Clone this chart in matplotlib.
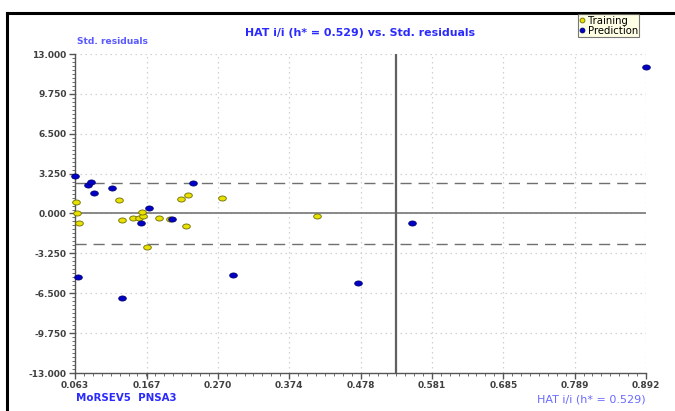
import numpy as np
import matplotlib
matplotlib.use("Agg")
import matplotlib.pyplot as plt
from matplotlib.path import Path
from matplotlib.lines import Line2D
from matplotlib.ticker import FixedLocator

# Data
train_hat = [0.0645, 0.0664, 0.0692, 0.1273, 0.1312, 0.1476, 0.1563, 0.1621, 0.1602,
             0.1675, 0.1845, 0.2009, 0.2173, 0.2266, 0.2241, 0.2759, 0.4138]
train_res = [0.92, 0.08, -0.79, 1.06, -0.49, -0.35, -0.35, -0.24, 0.16,
             -2.69, -0.38, -0.46, 1.20, 1.49, -1.00, 1.30, -0.24]
pred_hat = [0.063, 0.0823, 0.0858, 0.0906, 0.1163, 0.1588, 0.1709, 0.2042, 0.2347,
            0.0669, 0.1312, 0.2923, 0.4733, 0.5517, 0.892]
pred_res = [3.07, 2.36, 2.53, 1.71, 2.04, -0.76, 0.46, -0.41, 2.47,
            -5.16, -6.90, -5.00, -5.65, -0.79, 11.96]
h_star = 0.529
res_limit = 2.5
x_ticks = [0.063, 0.167, 0.270, 0.374, 0.478, 0.581, 0.685, 0.789, 0.892]
y_ticks = [-13.0, -9.75, -6.5, -3.25, 0.0, 3.25, 6.5, 9.75, 13.0]

fig = plt.figure(figsize=(6.75, 4.11), dpi=100)
fig.patch.set_facecolor("white")
ax = fig.add_axes([75/675, 1-373/411, (646-75)/675, (373-54)/411])

# ellipse marker
t = np.linspace(0, 2*np.pi, 40)
ell = Path(np.column_stack([1.5*np.cos(t), np.sin(t)]), closed=True)

ax.set_xlim(x_ticks[0], x_ticks[-1])
ax.set_ylim(y_ticks[0], y_ticks[-1])

ax.xaxis.set_major_locator(FixedLocator(x_ticks))
ax.yaxis.set_major_locator(FixedLocator(y_ticks))
ax.xaxis.set_minor_locator(FixedLocator(np.linspace(x_ticks[0], x_ticks[-1], 8*8+1)))
ax.yaxis.set_minor_locator(FixedLocator(np.linspace(-13, 13, 81)))
ax.set_xticklabels([f"{v:.3f}" for v in x_ticks])
ax.set_yticklabels([f"{v:.3f}" for v in y_ticks])
ax.tick_params(axis="both", which="major", length=4, width=1, color="#555555",
               labelsize=6.5, labelcolor="#404040", pad=2)
ax.tick_params(axis="both", which="minor", length=2, width=0.6, color="#555555")
for lab in ax.get_xticklabels() + ax.get_yticklabels():
    lab.set_fontweight("bold")

for s in ["top", "right"]:
    ax.spines[s].set_visible(False)
for s in ["left", "bottom"]:
    ax.spines[s].set_color("#555555")
    ax.spines[s].set_linewidth(1)

ax.grid(True, which="major", linestyle=(0, (1.2, 2.8)), color="#d0d0d0", linewidth=0.9)
ax.set_axisbelow(True)

ax.axhline(0, color="#808080", lw=1.3, zorder=1)
ax.axhline(res_limit, color="#707070", lw=1.0, ls=(0, (8, 5)), zorder=1)
ax.axhline(-res_limit, color="#707070", lw=1.0, ls=(0, (8, 5)), zorder=1)
ax.axvline(h_star, color="#606060", lw=1.6, zorder=1)

ax.scatter(train_hat, train_res, marker=ell, s=30, facecolor="#e8e000",
           edgecolor="#6b6b00", linewidth=0.6, zorder=3, clip_on=False, label="Training")
ax.scatter(pred_hat, pred_res, marker=ell, s=30, facecolor="#0000c8",
           edgecolor="#000070", linewidth=0.6, zorder=3, clip_on=False, label="Prediction")

leg = fig.legend(handles=[
    Line2D([], [], marker="o", ls="", markersize=3.5, markerfacecolor="#e8e000",
           markeredgecolor="#6b6b00", markeredgewidth=0.6, label="Training"),
    Line2D([], [], marker="o", ls="", markersize=3.5, markerfacecolor="#0000c8",
           markeredgecolor="#000070", markeredgewidth=0.6, label="Prediction")],
    loc="upper left", bbox_to_anchor=(578/675, 1-14/411), frameon=True, fancybox=False,
    fontsize=7.3, handlelength=0.5, handletextpad=0.3, borderpad=0.15,
    labelspacing=0.0, borderaxespad=0)
leg.get_frame().set_facecolor("#ffffe0")
leg.get_frame().set_edgecolor("#555555")
leg.get_frame().set_linewidth(0.8)

fig.text(360/675, 1-33/411, "HAT i/i (h* = 0.529) vs. Std. residuals", ha="center", va="center",
         fontsize=7.9, fontweight="bold", color="#2a2aff")
fig.text(112/675, 1-41/411, "Std. residuals", ha="center", va="center",
         fontsize=6.6, fontweight="bold", color="#5a5aff")
fig.text(126/675, 1-398/411, "MoRSEV5  PNSA3", ha="center", va="center",
         fontsize=7.4, fontweight="bold", color="#2a2aff")
fig.text(591/675, 1-399/411, "HAT i/i (h* = 0.529)", ha="center", va="center",
         fontsize=8, color="#6a6aff")

# outer black frame (left and top visible)
fig.add_artist(Line2D([6.5/675, 6.5/675], [0, 1-13/411], color="black", lw=2.2,
                      transform=fig.transFigure))
fig.add_artist(Line2D([6.5/675, 1], [1-13/411, 1-13/411], color="black", lw=2.2,
                      transform=fig.transFigure))

fig.savefig("out.png", dpi=100)
